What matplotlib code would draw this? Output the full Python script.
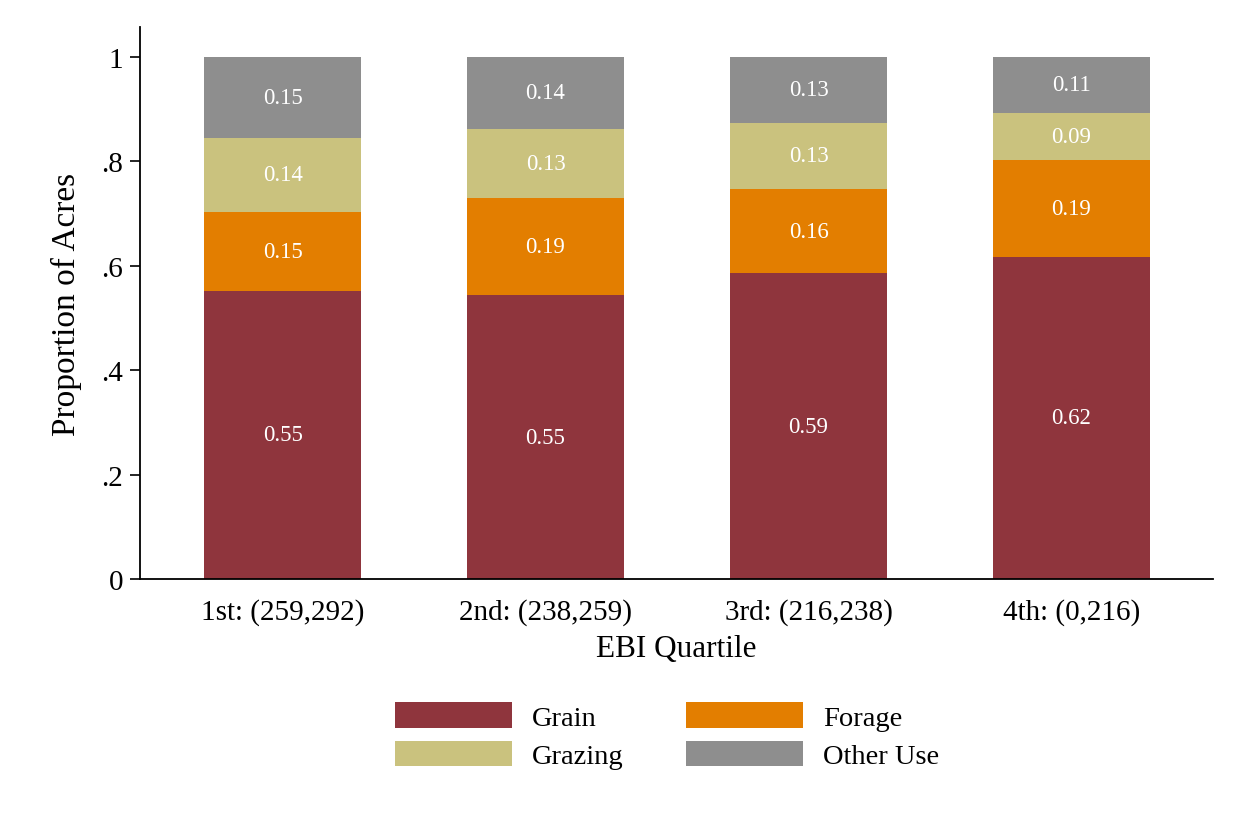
import numpy as np
import matplotlib
matplotlib.use('Agg')
import matplotlib.pyplot as plt

# data
quartiles = ['1st: (259,292)', '2nd: (238,259)', '3rd: (216,238)', '4th: (0,216)']
uses = ['Grain', 'Forage', 'Grazing', 'Other Use']
grain = [0.552, 0.544, 0.586, 0.617]
forage = [0.151, 0.186, 0.161, 0.186]
grazing = [0.142, 0.132, 0.127, 0.090]
other = [0.155, 0.138, 0.126, 0.107]
labels = [['0.55', '0.55', '0.59', '0.62'],
          ['0.15', '0.19', '0.16', '0.19'],
          ['0.14', '0.13', '0.13', '0.09'],
          ['0.15', '0.14', '0.13', '0.11']]
yticks = [0, 0.2, 0.4, 0.6, 0.8, 1.0]
yticklabels = ['0', '.2', '.4', '.6', '.8', '1']

colors = ['#8F353D', '#E37E00', '#CAC27E', '#8E8E8E']

plt.rcParams['font.family'] = ['Liberation Serif', 'DejaVu Serif']

fig = plt.figure(figsize=(12.47, 8.28), dpi=100)
ax = fig.add_axes([0.1123, 0.2995, 0.8604, 0.6665])

x = np.arange(len(quartiles))
series = [grain, forage, grazing, other]
bottom = np.zeros(len(quartiles))
handles = []
for i, vals in enumerate(series):
    vals = np.asarray(vals)
    h = ax.bar(x, vals, bottom=bottom, width=0.597, color=colors[i], label=uses[i], zorder=2)
    handles.append(h)
    for j in range(len(x)):
        ax.text(x[j], bottom[j] + vals[j] / 2, labels[i][j], ha='center', va='center',
                color='white', fontsize=16.5)
    bottom = bottom + vals

ax.set_xlim(-0.542, 3.538)
ax.set_ylim(0, 1.057)
ax.set_xticks(x)
ax.set_xticklabels(quartiles, fontsize=21)
ax.tick_params(axis='x', length=0, pad=14)
ax.set_yticks(yticks)
ax.set_yticklabels(yticklabels, fontsize=21)
ax.tick_params(axis='y', length=7, width=1.2, pad=5)
for s in ['top', 'right']:
    ax.spines[s].set_visible(False)
for s in ['left', 'bottom']:
    ax.spines[s].set_linewidth(1.3)
ax.set_ylabel('Proportion of Acres', fontsize=24, labelpad=14)
ax.set_xlabel('EBI Quartile', fontsize=22.5, labelpad=6)

# legend filled row by row like Stata
order = [0, 2, 1, 3]
fig.legend([handles[k] for k in order], [uses[k] for k in order],
           loc='center', bbox_to_anchor=(0.535, 0.11), ncol=2, frameon=False,
           fontsize=20.5, handlelength=4.1, handleheight=1.0, columnspacing=2.2,
           handletextpad=0.7, labelspacing=0.35)

fig.savefig('out.png', dpi=100, facecolor='white')
